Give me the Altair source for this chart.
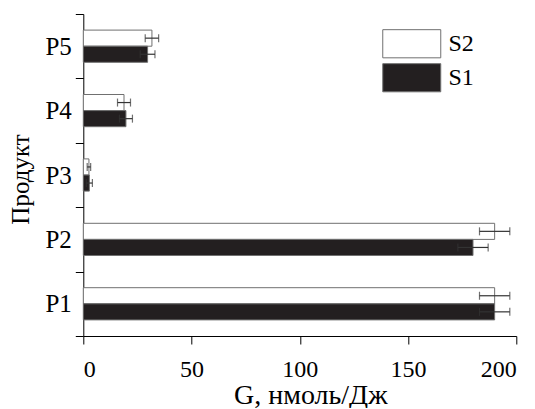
import altair as alt
import pandas as pd

products = ["P1", "P2", "P3", "P4", "P5"]
product_order = ["P5", "P4", "P3", "P2", "P1"]
series = ["S2", "S1"]
s2_values = [190, 190, 2.6, 18.8, 31.7]
s2_errors = [7, 7, 0.8, 3, 3.1]
s1_values = [190, 180, 2.8, 19.7, 29.7]
s1_errors = [7, 7, 1.4, 3, 3.4]
x_ticks = [0, 50, 100, 150, 200]

rows = []
for name, vals, errs in (("S2", s2_values, s2_errors), ("S1", s1_values, s1_errors)):
    for p, v, e in zip(products, vals, errs):
        rows.append({"product": p, "series": name, "value": v, "lo": v - e, "hi": v + e})
df = pd.DataFrame(rows)

FONT = "Liberation Serif"
INK = "#231f20"

y_scale = alt.Scale(domain=product_order, paddingInner=0, paddingOuter=0)
yoff = alt.YOffset("series:N", scale=alt.Scale(domain=series, paddingInner=0, paddingOuter=1))
x_scale = alt.Scale(domain=[0, 200], nice=False, zero=True)

x_axis = alt.Axis(title="G, нмоль/Дж", values=x_ticks, grid=False, tickSize=8,
                  labelFont=FONT, labelFontSize=24, labelColor="black",
                  labelBaseline="alphabetic", labelPadding=32,
                  titleFont=FONT, titleFontSize=28, titleFontWeight="normal",
                  titleColor="black", titleX=227, titleY=67, titleBaseline="alphabetic",
                  domainColor="black", tickColor="black")
y_axis = alt.Axis(title="Продукт", tickBand="extent", tickSize=8, grid=False,
                  labelFont=FONT, labelFontSize=25, labelColor="black", labelPadding=4,
                  titleFont=FONT, titleFontSize=25, titleFontWeight="normal",
                  titleColor="black", titleX=-55, titleY=165, titleBaseline="alphabetic",
                  domainColor="black", tickColor="black")

bars = alt.Chart(df).mark_bar(stroke="#707070", strokeWidth=1).encode(
    x=alt.X("value:Q", scale=x_scale, axis=x_axis),
    y=alt.Y("product:N", scale=y_scale, axis=y_axis),
    yOffset=yoff,
    color=alt.Color("series:N", scale=alt.Scale(domain=series, range=["#ffffff", INK]),
                    legend=alt.Legend(title=None, orient="none", legendX=316.45, legendY=17.75,
                                      symbolType="M-4,-1.94H4V1.94H-4Z", symbolSize=210.25,
                                      symbolStrokeColor="#707070", symbolStrokeWidth=1,
                                      symbolOpacity=1,
                                      labelFont=FONT, labelFontSize=24, labelColor="black",
                                      labelOffset=24.75, rowPadding=0, padding=0)),
)

rules = alt.Chart(df).mark_rule(color="#333333", strokeWidth=1.2).encode(
    x=alt.X("lo:Q", scale=x_scale, axis=x_axis),
    x2="hi:Q",
    y=alt.Y("product:N", scale=y_scale, axis=y_axis),
    yOffset=yoff,
)
caps_lo = alt.Chart(df).mark_tick(color="#333333", thickness=1.2, size=8).encode(
    x=alt.X("lo:Q", scale=x_scale, axis=x_axis),
    y=alt.Y("product:N", scale=y_scale, axis=y_axis),
    yOffset=yoff,
)
caps_hi = alt.Chart(df).mark_tick(color="#333333", thickness=1.2, size=8).encode(
    x=alt.X("hi:Q", scale=x_scale, axis=x_axis),
    y=alt.Y("product:N", scale=y_scale, axis=y_axis),
    yOffset=yoff,
)

chart = alt.layer(bars, rules, caps_lo, caps_hi).properties(
    width=433, height=322,
    autosize=alt.AutoSizeParams(type="none"),
    padding={"left": 75.3, "top": 6, "right": 10.7, "bottom": 72},
    background="white",
).configure_view(stroke=None)

chart.save("out.html", embed_options={"renderer": "svg", "actions": False})
